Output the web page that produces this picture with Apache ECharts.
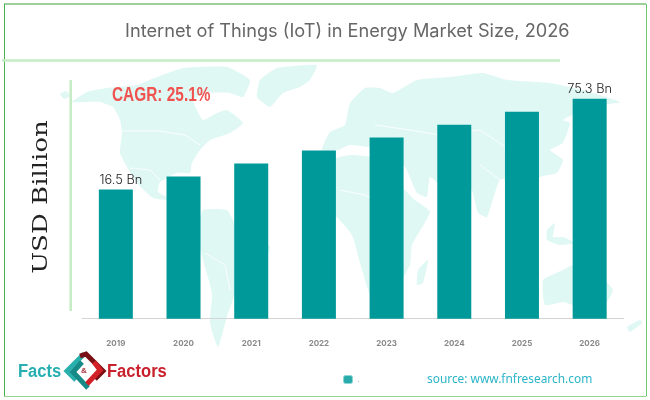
<!DOCTYPE html>
<html>
<head>
<meta charset="utf-8">
<style>html,body{margin:0;padding:0;background:#fff}#main{width:650px;height:400px}</style>
<script src="https://cdn.jsdelivr.net/npm/echarts@6/dist/echarts.min.js"></script>
</head>
<body>
<div id="main"></div>
<script>
var years = ['2019', '2020', '2021', '2022', '2023', '2024', '2025', '2026'];
var marketSize = [16.5, 24.9, 33.3, 41.7, 50.1, 58.5, 66.9, 75.3];
// the bars in the picture don't start at 0, 16.5 is already a tall bar
var axisOffset = [67.2, 67.2, 67.2, 67.2, 67.2, 67.2, 67.2, 67.2];
var labelledYears = ['2019', '2026'];

// background map, rough outlines in page pixels (decoration only)
var mapLand = [
    [[60,94],[66,91],[70,96],[64,99]],
    [[72,102],[87,92],[107,88],[137,85],[157,77],[183,68],[227,67],[250,80],[243,97],[230,93],[207,93],[193,100],[203,120],[217,113],[227,110],[243,123],[230,133],[210,140],[200,150],[192,163],[190,173],[177,173],[160,182],[158,192],[167,197],[177,195],[170,200],[153,198],[137,183],[127,167],[120,153],[122,133],[120,120],[113,107],[100,102],[83,102]],
    [[203,210],[227,210],[235,223],[270,247],[257,273],[237,290],[227,317],[218,347],[210,323],[212,293],[203,260],[198,233]],
    [[257,97],[260,80],[277,68],[317,65],[310,80],[300,87],[283,93],[270,107]],
    [[318,165],[350,155],[385,160],[405,190],[415,200],[430,212],[412,245],[410,265],[395,290],[372,298],[362,270],[352,235],[335,215],[318,200]],
    [[322,150],[330,132],[345,125],[350,103],[365,88],[380,88],[393,93],[417,80],[450,77],[483,73],[507,80],[550,83],[583,90],[620,102],[603,105],[583,110],[563,120],[570,123],[563,143],[550,150],[563,160],[557,173],[540,177],[527,193],[517,183],[500,180],[487,217],[478,213],[472,190],[463,180],[443,187],[430,177],[427,197],[417,193],[405,167],[383,150],[350,145],[338,150]],
    [[543,280],[563,270],[577,263],[597,273],[613,290],[603,307],[583,308],[563,302],[545,305]],
    [[428,260],[423,283],[417,285],[418,270]],
    [[547,230],[555,223],[553,237],[563,237],[575,243],[560,245],[547,240]],
    [[627,327],[640,320],[642,323],[630,332]]
];
var mapBorders = [
    [[122,131],[160,131],[185,135],[200,145]],
    [[130,168],[150,170],[160,180]],
    [[340,190],[365,195],[385,205]],
    [[375,125],[410,130],[440,135],[480,130],[510,150]],
    [[480,165],[500,180],[520,175]],
    [[205,253],[225,265],[230,290]]
];
var logoShapes = [
    { color: '#2ab0ac', points: [[84,354],[67,371],[76,380]] },
    { color: '#158a86', points: [[82,362],[73,372],[88,388]] },
    { color: '#7a1015', points: [[80,356],[86,354],[103,371],[95,379]] },
    { color: '#d32027', points: [[94,362],[100,370],[87,384]] }
];

var myChart = echarts.init(document.getElementById('main'));

var graphics = [];

mapLand.forEach(function (shape) {
    graphics.push({
        type: 'polygon', z: -10, silent: true,
        shape: { points: shape, smooth: 0.15 },
        style: { fill: '#e0f8f4' }
    });
});
mapBorders.forEach(function (line) {
    graphics.push({
        type: 'polyline', z: -9, silent: true,
        shape: { points: line },
        style: { fill: null, stroke: '#ffffff', lineWidth: 0.8 }
    });
});

// frame
graphics.push(
    { type: 'line', shape: { x1: 4, y1: 4, x2: 646, y2: 4 }, style: { stroke: '#3a9f35', lineWidth: 1 } },
    { type: 'line', shape: { x1: 4.5, y1: 4, x2: 4.5, y2: 396 }, style: { stroke: '#4caf50', lineWidth: 1 } },
    { type: 'line', shape: { x1: 4, y1: 396.5, x2: 646, y2: 396.5 }, style: { stroke: '#90d890', lineWidth: 1 } },
    { type: 'line', shape: { x1: 646.5, y1: 4, x2: 646.5, y2: 396 }, style: { stroke: '#6cc76c', lineWidth: 1 } },
    { type: 'line', shape: { x1: 2, y1: 60.5, x2: 560, y2: 60.5 }, style: { stroke: '#c5ecc5', lineWidth: 2.5 } },
    { type: 'line', shape: { x1: 70.7, y1: 80, x2: 70.7, y2: 311 }, style: { stroke: '#c5ecc5', lineWidth: 2.5 } }
);

graphics.push({
    type: 'text', x: 42, y: 197, rotation: Math.PI / 2, scaleX: 1.3,
    style: { text: 'USD Billion', font: '20px "DejaVu Serif"', fill: '#222', textAlign: 'center', textVerticalAlign: 'middle' }
});
graphics.push({
    type: 'text', x: 112, y: 95, scaleX: 0.77,
    style: { text: 'CAGR: 25.1%', font: 'bold 20px "Liberation Sans"', fill: '#ef5350', textVerticalAlign: 'middle' }
});
graphics.push({
    type: 'text', x: 427, y: 380,
    style: { text: 'source: www.fnfresearch.com', font: '11.9px "Noto Sans"', fill: '#2bb5c8', textVerticalAlign: 'middle' }
});

// logo
logoShapes.forEach(function (s) {
    graphics.push({
        type: 'polyline',
        shape: { points: s.points },
        style: { fill: null, stroke: s.color, lineWidth: 5 }
    });
});
graphics.push(
    { type: 'text', x: 18, y: 372, scaleX: 0.92, style: { text: 'Facts', font: 'bold 18px "Liberation Sans"', fill: '#26aeb0', textVerticalAlign: 'middle' } },
    { type: 'text', x: 107, y: 372, scaleX: 0.92, style: { text: 'Factors', font: 'bold 18px "Liberation Sans"', fill: '#c8202c', textVerticalAlign: 'middle' } },
    { type: 'text', x: 84, y: 371, style: { text: '&', font: 'bold 8px "Liberation Sans"', fill: '#a8323a', textAlign: 'center', textVerticalAlign: 'middle' } }
);

// first label sits a bit right of its bar in the picture
var barData = marketSize.map(function (v, i) {
    return { value: v, label: { offset: [years[i] === '2019' ? 5 : 0, 0] } };
});

myChart.setOption({
    animation: false,
    title: {
        text: 'Internet of Things (IoT) in Energy Market Size, 2026',
        left: 125,
        top: 23,
        padding: 0,
        textStyle: { fontFamily: 'Inter', fontSize: 18.2, fontWeight: 'normal', color: '#666' }
    },
    legend: {
        data: ['.'],
        left: 338,
        top: 370,
        itemWidth: 9,
        itemHeight: 8,
        itemGap: 4,
        itemStyle: { color: '#2aabab', borderColor: '#8fd6d6', borderWidth: 1 },
        textStyle: { fontSize: 8, color: '#888' }
    },
    grid: { left: 82, right: 26.5, top: 98.7, height: 220 },
    xAxis: {
        type: 'category',
        data: years,
        axisLine: { lineStyle: { color: '#d4d4d4', width: 1 } },
        axisTick: { alignWithLabel: true, length: 4, lineStyle: { color: '#ccc' } },
        axisLabel: { margin: 21, fontFamily: 'Inter', fontSize: 8, fontWeight: 'bold', color: '#888' }
    },
    yAxis: {
        type: 'value',
        min: 0,
        max: 142.5,
        show: false
    },
    series: [
        {
            name: 'offset',
            type: 'bar',
            stack: 'size',
            barWidth: 34,
            silent: true,
            itemStyle: { color: '#009999' },
            data: axisOffset
        },
        {
            name: '.',
            type: 'bar',
            stack: 'size',
            barWidth: 34,
            itemStyle: { color: '#009999' },
            label: {
                show: true,
                position: 'top',
                distance: 3,
                fontFamily: 'Inter',
                fontSize: 12.8,
                fontWeight: 300,
                color: '#222',
                formatter: function (p) {
                    return labelledYears.indexOf(p.name) >= 0 ? p.value + ' Bn' : '';
                }
            },
            data: barData
        }
    ],
    graphic: { elements: graphics }
});
</script>
</body>
</html>
